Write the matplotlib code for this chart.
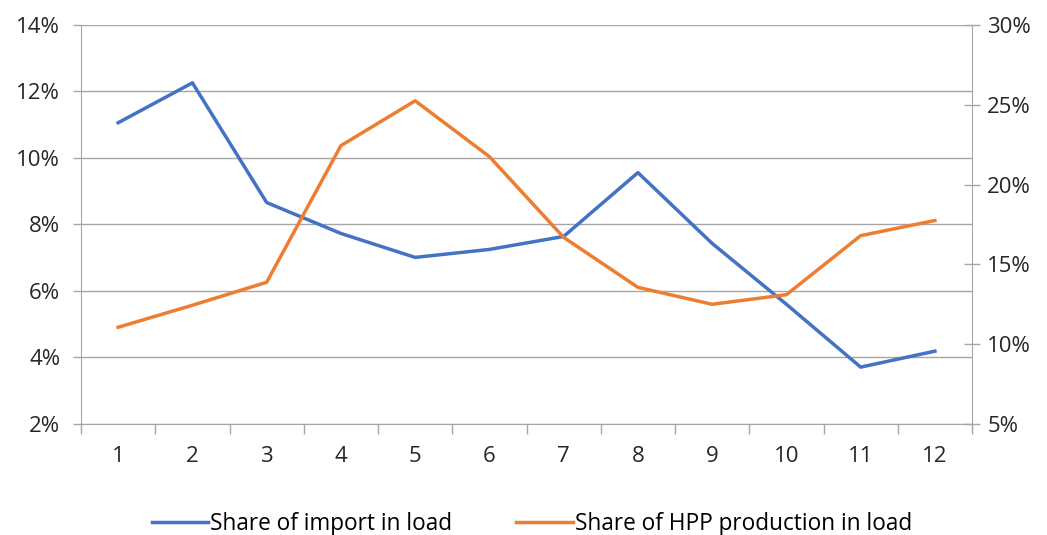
import matplotlib.pyplot as plt
import numpy as np
from matplotlib.ticker import FuncFormatter, MultipleLocator

plt.rcParams['font.family'] = ['Open Sans', 'DejaVu Sans']

months = [1, 2, 3, 4, 5, 6, 7, 8, 9, 10, 11, 12]
import_share = [11.06, 12.26, 8.66, 7.73, 7.01, 7.25, 7.64, 9.56, 7.43, 5.6, 3.71, 4.19]
hpp_share = [11.06, 12.44, 13.88, 22.44, 25.25, 21.75, 16.69, 13.56, 12.5, 13.1, 16.8, 17.75]

blue = '#4472C4'
orange = '#ED7D31'
grey = '#A6A6A6'
fs = 16

fig = plt.figure(figsize=(10.47, 5.35), dpi=100)
ax = fig.add_axes([0.0774, 0.2075, 0.851, 0.7458])
ax2 = ax.twinx()

l1, = ax.plot(months, import_share, color=blue, lw=2.5, label='Share of import in load')
l2, = ax2.plot(months, hpp_share, color=orange, lw=2.5, label='Share of HPP production in load')

ax.set_xlim(0.5, 12.5)
ax.set_ylim(2, 14)
ax2.set_ylim(5, 30)
ax.yaxis.set_major_locator(MultipleLocator(2))
ax2.yaxis.set_major_locator(MultipleLocator(5))
ax.yaxis.set_major_formatter(FuncFormatter(lambda v, p: '%d%%' % v))
ax2.yaxis.set_major_formatter(FuncFormatter(lambda v, p: '%d%%' % v))

ax.set_xticks(months)
ax.set_xticks(np.arange(0.5, 13, 1), minor=True)
ax.tick_params(axis='x', which='major', length=0, pad=16, labelsize=fs, colors='#262626')
ax.tick_params(axis='x', which='minor', length=7, color=grey, width=1)
ax.tick_params(axis='y', length=6, color=grey, width=1, labelsize=fs, labelcolor='#262626', pad=9)
ax2.tick_params(axis='y', direction='inout', length=12, color=grey, width=1, labelsize=fs,
                labelcolor='#262626', pad=5)

ax.grid(axis='y', color=grey, lw=1)
ax.set_axisbelow(True)
for a in (ax, ax2):
    for s in a.spines.values():
        s.set_visible(False)
ax.spines['left'].set_visible(True)
ax.spines['left'].set_color(grey)
ax.spines['bottom'].set_visible(True)
ax.spines['bottom'].set_color(grey)
ax2.spines['right'].set_visible(True)
ax2.spines['right'].set_color(grey)

fig.legend([l1, l2], [l1.get_label(), l2.get_label()], loc='center',
           bbox_to_anchor=(0.508, 0.02), ncol=2, frameon=False, fontsize=16.3,
           handlelength=2.5, handletextpad=0.1, columnspacing=2.8)

plt.savefig('out.png', dpi=100)
